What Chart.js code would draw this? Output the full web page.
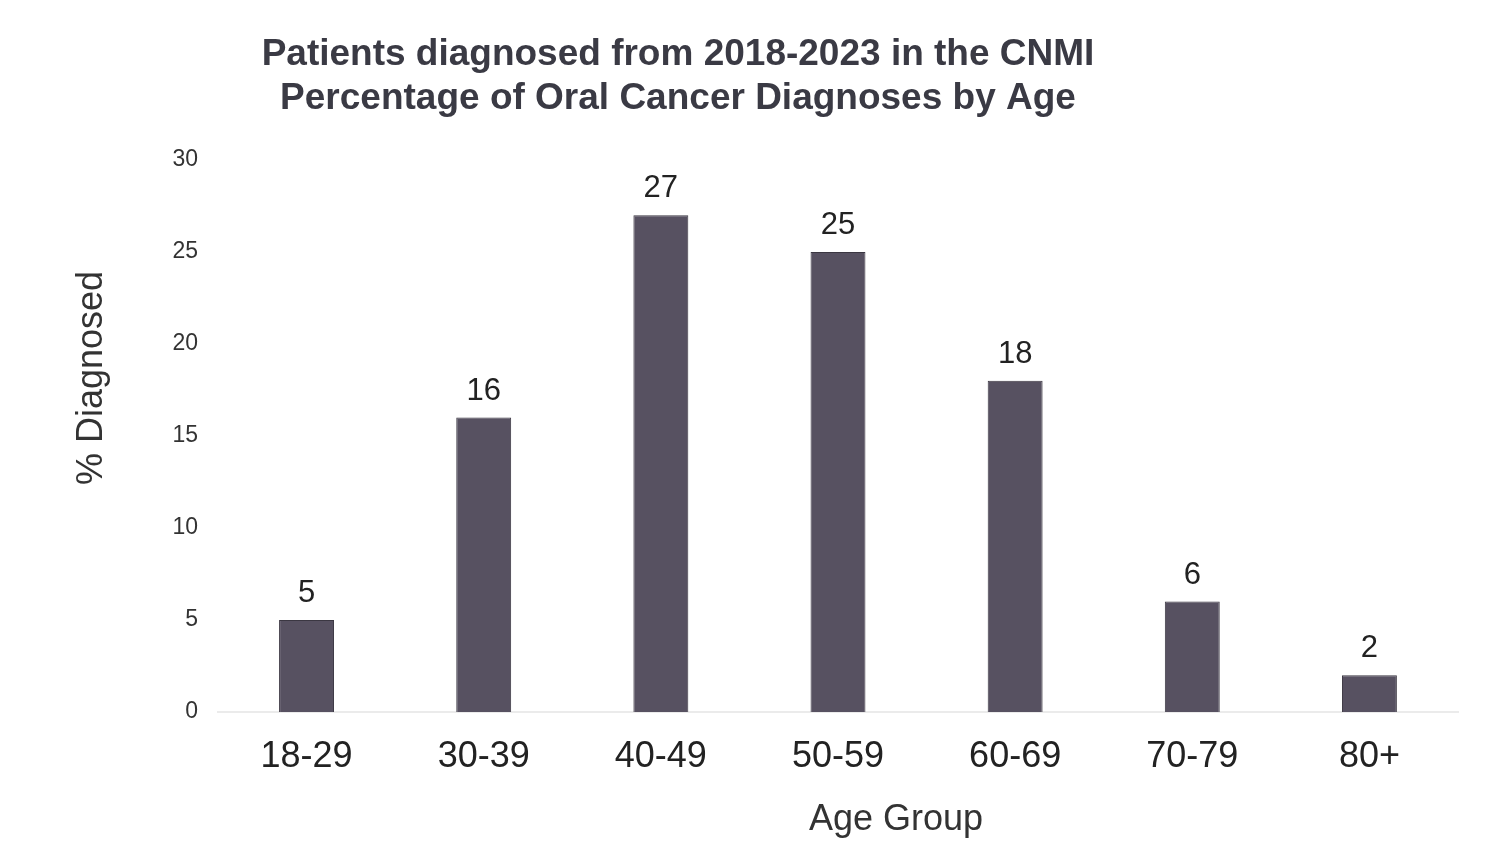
<!DOCTYPE html>
<html>
<head>
<meta charset="utf-8">
<script src="https://cdn.jsdelivr.net/npm/chart.js@4"></script>
<style>
  html, body { margin: 0; padding: 0; background: #fff; }
  #wrap { width: 1490px; height: 845px; }
</style>
</head>
<body>
<div id="wrap"><canvas id="ageChart"></canvas></div>
<script>
const ageGroups = ['18-29', '30-39', '40-49', '50-59', '60-69', '70-79', '80+'];
const pctDiagnosed = [5, 16, 27, 25, 18, 6, 2];
const yTicks = [0, 5, 10, 15, 20, 25, 30];
const titleLines = ['Patients diagnosed from 2018-2023 in the CNMI', 'Percentage of Oral Cancer Diagnoses by Age'];
const xTitle = 'Age Group';
const yTitle = '% Diagnosed';

const FONT = "'Liberation Sans', Arial, sans-serif";

// titles and value labels drawn on the canvas
const textLayer = {
  id: 'textLayer',
  afterDatasetsDraw(chart) {
    const ctx = chart.ctx;
    const area = chart.chartArea;
    ctx.save();

    // value labels above the bars
    ctx.fillStyle = '#222';
    ctx.font = '31px ' + FONT;
    ctx.textAlign = 'center';
    ctx.textBaseline = 'alphabetic';
    chart.getDatasetMeta(0).data.forEach((bar, i) => {
      ctx.fillText(String(pctDiagnosed[i]), bar.x, bar.y - 18);
    });

    // chart title
    ctx.fillStyle = '#3a3a44';
    ctx.font = 'bold 37px ' + FONT;
    ctx.textBaseline = 'middle';
    ctx.fillText(titleLines[0], 678, 55);
    ctx.fillText(titleLines[1], 678, 99);

    // axis titles
    ctx.fillStyle = '#333';
    ctx.font = '36px ' + FONT;
    ctx.fillText(xTitle, 896, area.bottom + 108);

    ctx.translate(92, 378);
    ctx.rotate(-Math.PI / 2);
    ctx.fillText(yTitle, 0, 0);
    ctx.restore();
  }
};

document.addEventListener('DOMContentLoaded', function () {
  const el = document.getElementById('ageChart');

  new Chart(el, {
    type: 'bar',
    data: {
      labels: ageGroups,
      datasets: [{
        label: yTitle,
        data: pctDiagnosed,
        backgroundColor: '#575161',
        borderColor: '#3b3742',
        borderWidth: 1,
        categoryPercentage: 1,
        barPercentage: 0.31
      }]
    },
    options: {
      responsive: true,
      maintainAspectRatio: false,
      animation: false,
      layout: {
        padding: { top: 160, right: 32, bottom: 0, left: 0 }
      },
      plugins: {
        legend: { display: false },
        title: { display: false },
        tooltip: { enabled: false }
      },
      scales: {
        x: {
          grid: { display: false, drawTicks: false },
          border: { display: true, color: '#ebebeb', width: 2 },
          ticks: {
            padding: 23,
            color: '#222',
            font: { family: FONT, size: 36 }
          },
          afterFit(scale) { scale.height = 133; }
        },
        y: {
          min: 0,
          max: 30,
          afterBuildTicks(scale) {
            scale.ticks = yTicks.map(v => ({ value: v }));
          },
          grid: { display: false, drawTicks: false },
          border: { display: false },
          ticks: {
            padding: 20,
            color: '#333',
            font: { family: FONT, size: 23 }
          },
          afterFit(scale) { scale.width = 218; }
        }
      }
    },
    plugins: [textLayer]
  });
});
</script>
</body>
</html>
